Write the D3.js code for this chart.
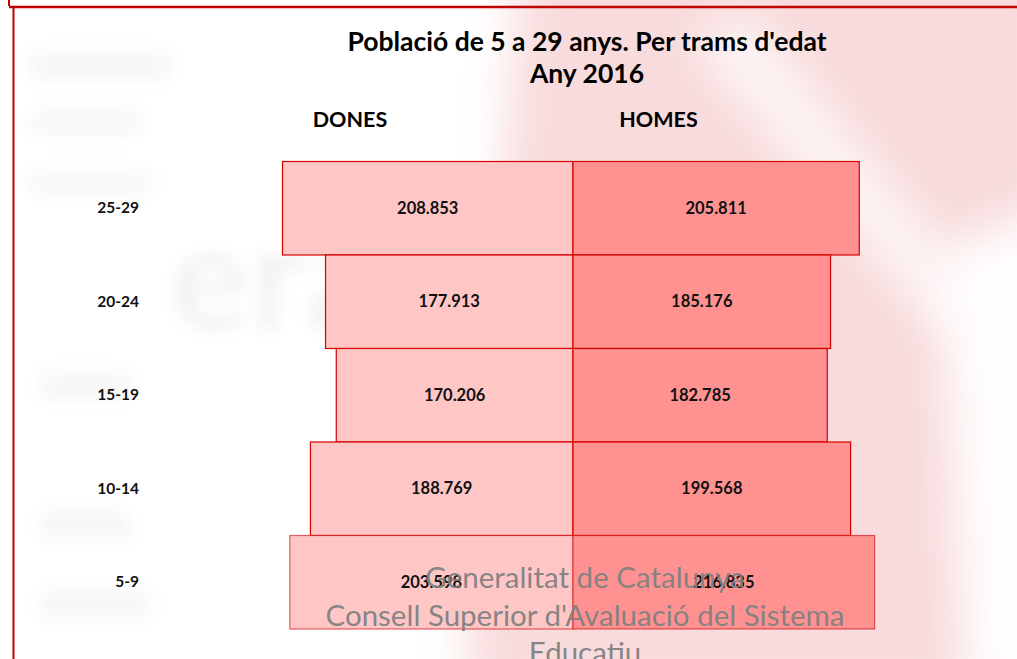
<!DOCTYPE html>
<html>
<head>
<meta charset="utf-8">
<script src="https://cdn.jsdelivr.net/npm/d3@7"></script>
<style>
  html, body { margin: 0; padding: 0; background: #fff; }
  svg { display: block; font-family: Lato, "Open Sans", sans-serif; }
</style>
</head>
<body>
<svg id="chart" width="1017" height="659"></svg>
<script>
// age bands, top to bottom as in the picture
var ageGroups = ['25-29', '20-24', '15-19', '10-14', '5-9'];
var dones = [208853, 177913, 170206, 188769, 203598];
var homes = [205811, 185176, 182785, 199568, 216835];
var valueLabels = {
  dones: ['208.853', '177.913', '170.206', '188.769', '203.598'],
  homes: ['205.811', '185.176', '182.785', '199.568', '216.835']
};
var titleLines = ['Població de 5 a 29 anys. Per trams d\'edat', 'Any 2016'];
var sideLabels = ['DONES', 'HOMES'];
var watermarkLines = ['Generalitat de Catalunya', 'Consell Superior d\'Avaluació del Sistema', 'Educatiu'];

var svg = d3.select('#chart'),
    centerX = 573,

    y = d3.scaleBand()
      .domain(ageGroups)
      .range([161.5, 629])
      .padding(0),

    w = d3.scaleLinear()
      .domain([0, 220000])
      .range([0, 306]);

// blurred background watermark (logo shapes)
var defs = svg.append('defs');
defs.append('filter').attr('id', 'blur').attr('filterUnits', 'userSpaceOnUse')
  .attr('x', -100).attr('y', -100).attr('width', 1300).attr('height', 900)
  .append('feGaussianBlur').attr('stdDeviation', 22);
defs.append('filter').attr('id', 'blur2').attr('filterUnits', 'userSpaceOnUse')
  .attr('x', -100).attr('y', -100).attr('width', 1300).attr('height', 900)
  .append('feGaussianBlur').attr('stdDeviation', 8);

var bg = svg.append('g').attr('class', 'watermark-bg');
bg.append('path')
  .attr('d', 'M520,-40 L1060,-40 L1060,700 L470,700 L460,420 L500,200 Z')
  .attr('fill', '#f7d3d4')
  .attr('opacity', 0.8)
  .attr('filter', 'url(#blur)');
bg.append('path')
  .attr('d', 'M690,40 L750,15 L990,310 L950,340 Z')
  .attr('fill', '#fff')
  .attr('opacity', 0.75)
  .attr('filter', 'url(#blur)');
bg.append('path')
  .attr('d', 'M940,250 L1060,200 L1060,700 L965,700 Z')
  .attr('fill', '#fff')
  .attr('opacity', 0.95)
  .attr('filter', 'url(#blur)');
bg.append('text')
  .attr('x', 170).attr('y', 330)
  .attr('font-size', 150).attr('font-weight', 'bold')
  .attr('fill', '#f3f3f3')
  .attr('filter', 'url(#blur2)')
  .text('era');
[[30, 50, 140, 30], [30, 110, 110, 25], [30, 170, 120, 25], [40, 370, 90, 30], [40, 510, 90, 30], [40, 590, 110, 30]].forEach(function(b) {
  bg.append('rect')
    .attr('x', b[0]).attr('y', b[1]).attr('width', b[2]).attr('height', b[3])
    .attr('fill', '#f7f7f7')
    .attr('filter', 'url(#blur2)');
});

// frame
svg.append('line').attr('x1', 9).attr('x2', 1017).attr('y1', 7).attr('y2', 7)
  .attr('stroke', '#c00000').attr('stroke-width', 2.5);
svg.append('line').attr('x1', 9).attr('x2', 9).attr('y1', 0).attr('y2', 6)
  .attr('stroke', '#c00000').attr('stroke-width', 2);
svg.append('line').attr('x1', 13.5).attr('x2', 13.5).attr('y1', 8).attr('y2', 659)
  .attr('stroke', '#c00000').attr('stroke-width', 2);

// titles
svg.selectAll('.title')
  .data(titleLines)
  .enter()
    .append('text')
    .attr('class', 'title')
    .attr('x', 587)
    .attr('y', function(d, i) { return 51 + i * 32; })
    .attr('text-anchor', 'middle')
    .attr('font-size', 26.5)
    .attr('font-weight', 'bold')
    .attr('fill', '#000')
    .text(function(d) { return d; });

svg.selectAll('.side')
  .data(sideLabels)
  .enter()
    .append('text')
    .attr('class', 'side')
    .attr('x', function(d, i) { return i === 0 ? 350 : 658.5; })
    .attr('y', 127)
    .attr('text-anchor', 'middle')
    .attr('font-size', 21.5)
    .attr('font-weight', 'bold')
    .attr('fill', '#000')
    .text(function(d) { return d; });

// bars
var rows = svg.append('g').selectAll('.row')
  .data(ageGroups)
  .enter()
    .append('g')
    .attr('class', 'row');

rows.append('rect')
  .attr('x', function(d, i) { return centerX - w(dones[i]); })
  .attr('y', function(d) { return y(d); })
  .attr('width', function(d, i) { return w(dones[i]); })
  .attr('height', y.bandwidth())
  .attr('fill', '#ffc6c6')
  .attr('stroke', '#d40000')
  .attr('stroke-opacity', function(d, i) { return i === 4 ? 0.6 : 1; })
  .attr('stroke-width', 1.2);

rows.append('rect')
  .attr('x', centerX)
  .attr('y', function(d) { return y(d); })
  .attr('width', function(d, i) { return w(homes[i]); })
  .attr('height', y.bandwidth())
  .attr('fill', '#ff9191')
  .attr('stroke', '#d40000')
  .attr('stroke-opacity', function(d, i) { return i === 4 ? 0.6 : 1; })
  .attr('stroke-width', 1.2);

rows.append('text')
  .attr('x', function(d, i) { return centerX - w(dones[i]) / 2; })
  .attr('y', function(d) { return y(d) + y.bandwidth() / 2 + 5.5; })
  .attr('text-anchor', 'middle')
  .attr('font-size', 16.5)
  .attr('font-weight', 'bold')
  .attr('fill', '#111')
  .text(function(d, i) { return valueLabels.dones[i]; });

rows.append('text')
  .attr('x', function(d, i) { return centerX + w(homes[i]) / 2; })
  .attr('y', function(d) { return y(d) + y.bandwidth() / 2 + 5.5; })
  .attr('text-anchor', 'middle')
  .attr('font-size', 16.5)
  .attr('font-weight', 'bold')
  .attr('fill', '#111')
  .text(function(d, i) { return valueLabels.homes[i]; });

// age labels
rows.append('text')
  .attr('x', 139)
  .attr('y', function(d) { return y(d) + y.bandwidth() / 2 + 5; })
  .attr('text-anchor', 'end')
  .attr('font-size', 15.5)
  .attr('font-weight', 'bold')
  .attr('fill', '#111')
  .text(function(d) { return d; });

// watermark text on top
svg.selectAll('.wm')
  .data(watermarkLines)
  .enter()
    .append('text')
    .attr('class', 'wm')
    .attr('x', 585)
    .attr('y', function(d, i) { return 588 + i * 37.5; })
    .attr('text-anchor', 'middle')
    .attr('font-size', 29.5)
    .attr('fill', '#808080')
    .attr('fill-opacity', 0.95)
    .text(function(d) { return d; });
</script>
</body>
</html>
